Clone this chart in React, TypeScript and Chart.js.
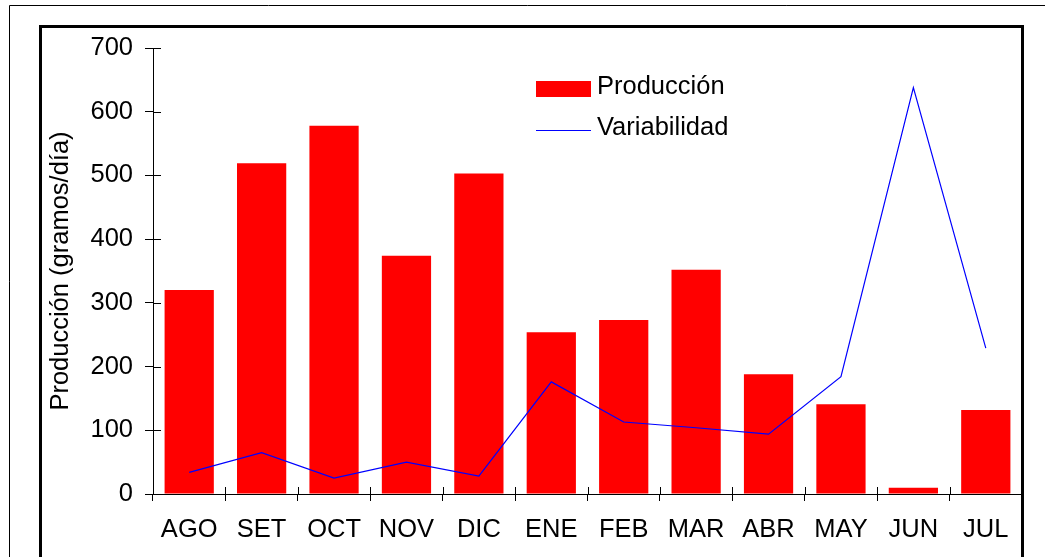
import React, { useEffect, useRef } from "react";
import { Chart, registerables } from "chart.js";

Chart.register(...registerables);

const categories = ["AGO", "SET", "OCT", "NOV", "DIC", "ENE", "FEB", "MAR", "ABR", "MAY", "JUN", "JUL"];
const produccion = [320, 519, 578, 374, 503, 254, 273, 352, 188, 141, 10, 132];
const variabilidad = [34, 65, 25, 50, 28, 176, 113, 104, 94, 184, 638, 229];
const yTicks = [0, 100, 200, 300, 400, 500, 600, 700];

const FONT = '"Liberation Sans", Arial, Helvetica, sans-serif';
const FS = 25.5;

const framePlugin = {
  id: "framePlugin",
  afterDraw(chart: any) {
    const ctx = chart.ctx;
    const x = chart.scales.x;
    const y = chart.scales.y;
    ctx.save();
    // inward tick marks
    ctx.strokeStyle = "#000";
    ctx.lineWidth = 1;
    ctx.beginPath();
    y.ticks.forEach((_: any, i: number) => {
      const py = Math.round(y.getPixelForTick(i)) + 0.5;
      ctx.moveTo(y.right, py);
      ctx.lineTo(y.right + 8, py);
    });
    for (let i = 0; i <= categories.length; i++) {
      const px = Math.round(x.left + (i * (x.right - x.left)) / categories.length) + 0.5;
      ctx.moveTo(px, x.top);
      ctx.lineTo(px, x.top - 7);
    }
    ctx.stroke();

    // legend
    const ds = chart.data.datasets;
    ctx.font = `${FS}px ${FONT}`;
    ctx.fillStyle = ds[0].backgroundColor;
    ctx.fillRect(536, 81, 55, 16);
    ctx.fillStyle = "#000";
    ctx.textBaseline = "alphabetic";
    ctx.textAlign = "left";
    ctx.fillText(ds[0].label, 597, 94);
    ctx.strokeStyle = ds[1].borderColor;
    ctx.lineWidth = 1;
    ctx.beginPath();
    ctx.moveTo(536, 130.5);
    ctx.lineTo(591, 130.5);
    ctx.stroke();
    ctx.fillStyle = "#000";
    ctx.fillText(ds[1].label, 597, 135);

    // outer thin border
    ctx.strokeStyle = "#000";
    ctx.lineWidth = 1;
    ctx.beginPath();
    ctx.moveTo(9.5, 600);
    ctx.lineTo(9.5, 5.5);
    ctx.lineTo(1100, 5.5);
    ctx.stroke();

    // inner thick box
    ctx.lineWidth = 3;
    ctx.beginPath();
    ctx.moveTo(40.5, 600);
    ctx.lineTo(40.5, 26.5);
    ctx.lineTo(1022.5, 26.5);
    ctx.lineTo(1022.5, 600);
    ctx.stroke();
    ctx.restore();
  },
};

export default function App() {
  const ref = useRef<HTMLCanvasElement | null>(null);
  useEffect(() => {
    document.body.style.margin = "0";
    Chart.defaults.font.family = FONT;
    Chart.defaults.color = "#000";
    const chart = new Chart(ref.current as HTMLCanvasElement, {
      type: "bar",
      data: {
        labels: categories,
        datasets: [
          {
            type: "bar",
            label: "Producción",
            data: produccion,
            backgroundColor: "#FF0000",
            borderWidth: 0,
            barPercentage: 0.68,
            categoryPercentage: 1,
            order: 1,
          },
          {
            type: "line",
            label: "Variabilidad",
            data: variabilidad,
            borderColor: "#0000FF",
            borderWidth: 1.2,
            pointRadius: 0,
            tension: 0,
            fill: false,
            order: 0,
          } as any,
        ],
      },
      options: {
        responsive: false,
        animation: false,
        layout: { padding: { top: 48, right: 23, left: 0, bottom: 0 } },
        plugins: {
          legend: { display: false },
          tooltip: { enabled: false },
        },
        scales: {
          x: {
            grid: {
              display: true,
              offset: true,
              drawOnChartArea: false,
              drawTicks: true,
              tickLength: 7,
              color: "#000",
            },
            border: { display: true, color: "#000", width: 1 },
            ticks: { font: { size: FS }, padding: 14, color: "#000", maxRotation: 0 },
            afterFit(scale: any) {
              scale.height = 63;
            },
          },
          y: {
            min: 0,
            max: 700,
            afterBuildTicks(scale: any) {
              scale.ticks = yTicks.map((v) => ({ value: v }));
            },
            grid: {
              display: true,
              drawOnChartArea: false,
              drawTicks: true,
              tickLength: 8,
              color: "#000",
            },
            border: { display: true, color: "#000", width: 1 },
            ticks: { font: { size: FS }, padding: 12, color: "#000" },
            title: {
              display: true,
              text: "Producción (gramos/día)",
              font: { size: FS, lineHeight: 1.2 },
              color: "#000",
              padding: { top: 46, bottom: 0 },
            },
            afterFit(scale: any) {
              scale.width = 153;
            },
          },
        },
      },
      plugins: [framePlugin],
    });
    return () => chart.destroy();
  }, []);
  return <canvas ref={ref} width={1045} height={557} style={{ display: "block" }} />;
}
